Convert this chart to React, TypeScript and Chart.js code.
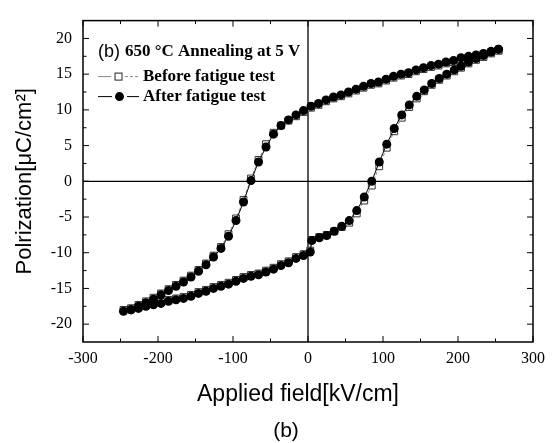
import React, { useEffect, useRef } from "react";
import { Chart, registerables } from "chart.js";

Chart.register(...registerables);

// ---- tick values ----
const xTickValues = [-300, -200, -100, 0, 100, 200, 300];
const xMinorTicks = [-250, -150, -50, 50, 150, 250];
const yTickValues = [-20, -15, -10, -5, 0, 5, 10, 15, 20];
const yMinorTicks = [-17.5, -12.5, -7.5, -2.5, 2.5, 7.5, 12.5, 17.5];

// ---- descending branch (from +E to -E) ----
const downField = [
  254, 244, 234, 224, 214, 204, 194, 184, 174, 164, 154, 144, 134, 124, 114, 104, 94, 84, 74, 64, 54, 44, 34, 24, 14, 4,
  -6, -16, -26, -36, -46, -56, -66, -76, -86, -96, -106, -116, -126, -136, -146, -156, -166, -176, -186, -196, -206,
  -216, -226, -236, -246,
];
const afterDownPol = [
  18.5, 18.2, 17.9, 17.7, 17.5, 17.3, 16.9, 16.7, 16.4, 16.2, 15.9, 15.6, 15.2, 15.0, 14.7, 14.3, 13.9, 13.7, 13.3, 12.9,
  12.5, 12.1, 11.8, 11.4, 10.9, 10.5, 9.9, 9.3, 8.6, 7.8, 6.6, 4.8, 2.7, 0.1, -2.9, -5.5, -7.7, -9.4, -10.6, -11.7,
  -12.6, -13.4, -14.1, -14.7, -15.3, -15.9, -16.5, -17.0, -17.5, -18.0, -18.2,
];
const beforeDownPol = [
  18.3, 18.0, 17.7, 17.5, 17.3, 17.1, 16.7, 16.5, 16.2, 16.0, 15.7, 15.4, 15.0, 14.8, 14.5, 14.1, 13.7, 13.5, 13.1, 12.7,
  12.3, 11.9, 11.6, 11.2, 10.7, 10.3, 9.7, 9.1, 8.5, 7.8, 6.8, 5.2, 3.0, 0.4, -2.6, -5.2, -7.4, -9.2, -10.4, -11.5,
  -12.4, -13.2, -13.9, -14.5, -15.1, -15.7, -16.3, -16.8, -17.3, -17.8, -18.0,
];

// ---- ascending branch (from -E to +E) ----
const upField = [
  -236, -226, -216, -206, -196, -186, -176, -166, -156, -146, -136, -126, -116, -106, -96, -86, -76, -66, -56, -46, -36,
  -26, -16, -6, 3, 5, 15, 25, 35, 45, 55, 65, 75, 85, 95, 105, 115, 125, 135, 145, 155, 165, 175, 185, 195, 204, 214,
  224, 234, 244, 254,
];
const afterUpPol = [
  -18.0, -17.8, -17.5, -17.3, -17.1, -16.8, -16.6, -16.4, -16.1, -15.7, -15.4, -15.0, -14.7, -14.4, -14.0, -13.6, -13.3,
  -13.1, -12.7, -12.3, -11.8, -11.4, -10.8, -10.4, -9.9, -8.3, -7.9, -7.6, -7.0, -6.3, -5.5, -4.1, -2.2, 0.0, 2.7, 5.2,
  7.4, 9.3, 10.7, 11.9, 12.8, 13.7, 14.4, 15.0, 15.6, 16.1, 16.7, 17.2, 17.6, 18.1, 18.5,
];
const beforeUpPol = [
  -17.8, -17.6, -17.3, -17.1, -16.9, -16.6, -16.4, -16.2, -15.9, -15.5, -15.2, -14.8, -14.5, -14.2, -13.8, -13.4, -13.1,
  -12.9, -12.5, -12.1, -11.6, -11.2, -10.6, -10.2, -9.7, -8.2, -7.8, -7.5, -7.0, -6.4, -5.8, -4.5, -2.7, -0.6, 2.1, 4.7,
  7.0, 8.9, 10.4, 11.6, 12.6, 13.5, 14.2, 14.8, 15.4, 15.9, 16.5, 17.0, 17.4, 17.9, 18.3,
];

const legendTitlePrefix = "(b)";
const legendTitle = "650 °C Annealing at 5 V";
const seriesLabels = ["Before fatigue test", "After fatigue test"];
const xTitle = "Applied field[kV/cm]";
const yTitle = "Polrization[μC/cm²]";
const caption = "(b)";

const SERIF = "'Liberation Serif', 'Times New Roman', serif";
const SANS = "'Liberation Sans', Arial, sans-serif";

function toPoints(xs: number[], ys: number[]) {
  return xs.map((x, i) => ({ x, y: ys[i] }));
}

const decorPlugin = {
  id: "decor",
  beforeDatasetsDraw(chart: any) {
    const { ctx, chartArea } = chart;
    const { left, right, top, bottom } = chartArea;
    const xs = chart.scales.x;
    const ys = chart.scales.y;
    const ln = (x1: number, y1: number, x2: number, y2: number) => {
      ctx.beginPath();
      ctx.moveTo(x1, y1);
      ctx.lineTo(x2, y2);
      ctx.stroke();
    };
    ctx.save();
    ctx.strokeStyle = "#000";
    ctx.lineWidth = 1.3;
    const x0 = xs.getPixelForValue(0);
    const y0 = ys.getPixelForValue(0);
    ln(left, y0, right, y0);
    ln(x0, top, x0, bottom);
    ctx.lineWidth = 1.5;
    ctx.strokeRect(left, top, right - left, bottom - top);
    ctx.lineWidth = 1;
    const major = 6;
    const minor = 3.5;
    xTickValues.forEach((v) => {
      const p = xs.getPixelForValue(v);
      ln(p, bottom, p, bottom - major);
      ln(p, top, p, top + major);
    });
    xMinorTicks.forEach((v) => {
      const p = xs.getPixelForValue(v);
      ln(p, bottom, p, bottom - minor);
      ln(p, top, p, top + minor);
    });
    yTickValues.forEach((v) => {
      const p = ys.getPixelForValue(v);
      ln(left, p, left + major, p);
      ln(right, p, right - major, p);
    });
    yMinorTicks.forEach((v) => {
      const p = ys.getPixelForValue(v);
      ln(left, p, left + minor, p);
      ln(right, p, right - minor, p);
    });
    ctx.restore();
  },
  afterDraw(chart: any) {
    const { ctx, chartArea } = chart;
    const { left, right, top, bottom } = chartArea;
    ctx.save();
    ctx.fillStyle = "#000";
    ctx.textBaseline = "middle";
    ctx.textAlign = "left";
    // legend title
    const lx = left + 15;
    ctx.font = `18px ${SANS}`;
    ctx.fillText(legendTitlePrefix, lx, top + 31);
    ctx.font = `bold 17px ${SERIF}`;
    ctx.fillText(legendTitle, lx + 27, top + 31);
    // legend entries
    const rows = [top + 56, top + 76];
    // before
    ctx.strokeStyle = "#888";
    ctx.lineWidth = 1;
    ctx.beginPath();
    ctx.moveTo(lx, rows[0]);
    ctx.lineTo(lx + 13, rows[0]);
    ctx.stroke();
    ctx.setLineDash([3, 2]);
    ctx.beginPath();
    ctx.moveTo(lx + 27, rows[0]);
    ctx.lineTo(lx + 40, rows[0]);
    ctx.stroke();
    ctx.setLineDash([]);
    ctx.fillStyle = "#fff";
    ctx.strokeStyle = "#222";
    ctx.fillRect(lx + 17, rows[0] - 3.5, 7, 7);
    ctx.strokeRect(lx + 17, rows[0] - 3.5, 7, 7);
    // after
    ctx.strokeStyle = "#000";
    ctx.beginPath();
    ctx.moveTo(lx, rows[1]);
    ctx.lineTo(lx + 14, rows[1]);
    ctx.moveTo(lx + 29, rows[1]);
    ctx.lineTo(lx + 41, rows[1]);
    ctx.stroke();
    ctx.fillStyle = "#000";
    ctx.beginPath();
    ctx.arc(lx + 21.5, rows[1], 4.5, 0, Math.PI * 2);
    ctx.fill();
    ctx.font = `bold 17px ${SERIF}`;
    ctx.fillText(seriesLabels[0], lx + 45, rows[0]);
    ctx.fillText(seriesLabels[1], lx + 45, rows[1]);
    // x title & caption
    const cx = (left + right) / 2 - 10;
    ctx.textAlign = "center";
    ctx.font = `23px ${SANS}`;
    ctx.fillText(xTitle, cx, bottom + 53);
    ctx.font = `21px ${SANS}`;
    ctx.fillText(caption, cx - 12, bottom + 89);
    ctx.restore();
  },
};

export default function App() {
  const canvasRef = useRef<HTMLCanvasElement | null>(null);

  useEffect(() => {
    const canvas = canvasRef.current;
    if (!canvas) return;
    const chart = new Chart(canvas, {
      type: "scatter",
      data: {
        datasets: [
          {
            label: seriesLabels[1],
            data: [...toPoints(downField, afterDownPol), ...toPoints(upField, afterUpPol)],
            showLine: true,
            borderColor: "#000",
            borderWidth: 1,
            backgroundColor: "#000",
            pointStyle: "circle",
            pointRadius: 4.5,
            pointBorderWidth: 0,
            pointBackgroundColor: "#000",
            tension: 0,
            order: 0,
          },
          {
            label: seriesLabels[0],
            data: [...toPoints(downField, beforeDownPol), ...toPoints(upField, beforeUpPol)],
            showLine: true,
            borderColor: "#888",
            borderWidth: 1,
            borderDash: [3, 2],
            pointStyle: "rect",
            pointRadius: 4.8,
            pointBorderWidth: 1,
            pointBorderColor: "#333",
            pointBackgroundColor: "#fff",
            tension: 0,
            order: 1,
          },
        ],
      },
      options: {
        responsive: false,
        animation: false,
        devicePixelRatio: 1,
        layout: { padding: { top: 12, right: 24, left: 0, bottom: 0 } },
        plugins: {
          legend: { display: false },
          tooltip: { enabled: false },
          title: { display: false },
        },
        scales: {
          x: {
            type: "linear",
            position: "bottom",
            min: -300,
            max: 300,
            grid: { display: false, drawTicks: false },
            border: { display: false },
            afterBuildTicks: (scale: any) => {
              scale.ticks = xTickValues.map((v) => ({ value: v }));
            },
            afterFit: (scale: any) => {
              scale.height = 101;
            },
            ticks: {
              autoSkip: false,
              maxRotation: 0,
              padding: 7,
              color: "#000",
              font: { family: SERIF, size: 16 },
              callback: (v: any) => String(v),
            },
            title: { display: false },
          },
          y: {
            type: "linear",
            position: "left",
            min: -22.5,
            max: 22.5,
            grid: { display: false, drawTicks: false },
            border: { display: false },
            afterBuildTicks: (scale: any) => {
              scale.ticks = yTickValues.map((v) => ({ value: v }));
            },
            afterFit: (scale: any) => {
              scale.width = 83;
            },
            ticks: {
              autoSkip: false,
              padding: 11,
              color: "#000",
              font: { family: SERIF, size: 16 },
              callback: (v: any) => String(v),
            },
            title: {
              display: true,
              text: yTitle,
              color: "#000",
              font: { family: SANS, size: 22 },
              padding: { top: 12, bottom: 0 },
            },
          },
        },
      },
      plugins: [decorPlugin],
    });
    return () => chart.destroy();
  }, []);

  return (
    <div style={{ position: "absolute", left: 0, top: 0, width: 557, height: 443, background: "#fff" }}>
      <canvas ref={canvasRef} width={557} height={443} style={{ display: "block" }} />
    </div>
  );
}
